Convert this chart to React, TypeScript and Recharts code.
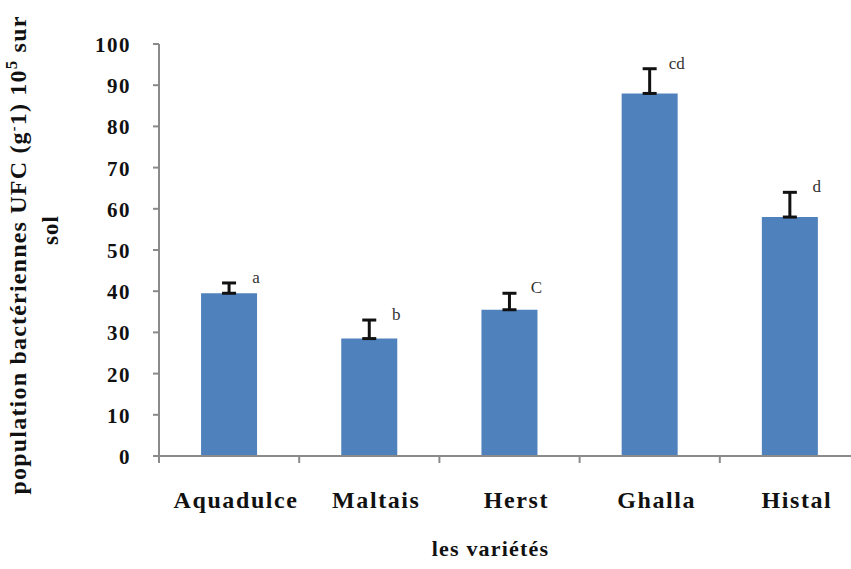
import React from "react";
import { BarChart, Bar, XAxis, YAxis, ErrorBar, LabelList } from "recharts";

const varieties = ["Aquadulce", "Maltais", "Herst", "Ghalla", "Histal"];
const population = [39.5, 28.5, 35.5, 88, 58];
const stdErr = [2.5, 4.5, 4, 6, 6];
const groups = ["a", "b", "C", "cd", "d"];
const yTicks = [0, 10, 20, 30, 40, 50, 60, 70, 80, 90, 100];

const data = varieties.map((name, i) => ({
  name,
  value: population[i],
  // only the upper half is drawn, the lower cap sits on the bar top
  err: [0, stdErr[i]],
  group: groups[i],
}));

const SERIF = "'Liberation Serif', 'Times New Roman', serif";
const AXIS = "#8a8a8a";
const BAR = "#4f81bd";

// category labels, with the tick marks drawn between the categories
const XTick = ({ x, y, width, payload, index }: any) => {
  const half = width / varieties.length / 2;
  return (
    <g>
      <line x1={x - half} x2={x - half} y1={y} y2={y + 7} stroke={AXIS} strokeWidth={2} />
      {index === varieties.length - 1 && (
        <line x1={x + half} x2={x + half} y1={y} y2={y + 7} stroke={AXIS} strokeWidth={2} />
      )}
      <text
        x={x + 7}
        y={y + 52}
        textAnchor="middle"
        fontFamily={SERIF}
        fontWeight="bold"
        fontSize={24}
        letterSpacing={1.6}
        fill="#111"
      >
        {payload.value}
      </text>
    </g>
  );
};

const YTick = ({ y, payload }: any) => (
  <text
    x={131}
    y={y + 1}
    textAnchor="end"
    dominantBaseline="central"
    fontFamily={SERIF}
    fontWeight="bold"
    fontSize={21}
    letterSpacing={1.5}
    fill="#111"
  >
    {payload.value}
  </text>
);

const YTitle = ({ viewBox }: any) => {
  const cy = viewBox.y + viewBox.height / 2;
  return (
    <g fontFamily={SERIF} fontWeight="bold" fill="#111">
      <text
        x={26}
        y={cy + 5}
        transform={`rotate(-90, 26, ${cy + 5})`}
        textAnchor="middle"
        fontSize={24}
        letterSpacing={1.2}
      >
        population bactériennes UFC (g
        <tspan dy={-8} fontSize={14}>-</tspan>
        <tspan dy={8}>1) 10</tspan>
        <tspan dy={-9} fontSize={17}>5</tspan>
        <tspan dy={9}>{"  sur"}</tspan>
      </text>
      <text
        x={58}
        y={cy - 20}
        transform={`rotate(-90, 58, ${cy - 20})`}
        textAnchor="middle"
        fontSize={23}
        letterSpacing={1}
      >
        sol
      </text>
    </g>
  );
};

const XTitle = ({ viewBox }: any) => (
  <text
    x={viewBox.x + viewBox.width / 2 - 19}
    y={556}
    textAnchor="middle"
    fontFamily={SERIF}
    fontWeight="bold"
    fontSize={22}
    letterSpacing={1.2}
    fill="#111"
  >
    les variétés
  </text>
);

// group letter placed to the right of each error bar
const GroupLetter = ({ x, y, width, height, value, index }: any) => {
  const perUnit = height / population[index];
  const top = y - stdErr[index] * perUnit;
  return (
    <text
      x={x + width / 2 + 27}
      y={top}
      textAnchor="middle"
      fontFamily={SERIF}
      fontSize={17}
      fill="#333"
    >
      {value}
    </text>
  );
};

export default function App() {
  return (
    <div
      style={{
        position: "absolute",
        left: 0,
        top: 0,
        width: 851,
        height: 569,
        overflow: "hidden",
        background: "#fff",
      }}
    >
      <BarChart
        width={866}
        height={569}
        data={data}
        margin={{ top: 44, right: 6, left: 0, bottom: 0 }}
        barCategoryGap="30%"
      >
        <XAxis
          dataKey="name"
          height={113}
          stroke={AXIS}
          strokeWidth={2}
          tickLine={false}
          tickSize={0}
          tickMargin={0}
          tick={<XTick />}
          interval={0}
          label={<XTitle />}
        />
        <YAxis
          width={159}
          domain={[0, 100]}
          ticks={yTicks}
          interval={0}
          stroke={AXIS}
          strokeWidth={2}
          tickSize={6}
          tick={<YTick />}
          label={<YTitle />}
        />
        <Bar dataKey="value" fill={BAR} isAnimationActive={false}>
          <ErrorBar
            dataKey="err"
            width={7}
            stroke="#111"
            strokeWidth={3}
            direction="y"
            isAnimationActive={false}
          />
          <LabelList dataKey="group" content={<GroupLetter />} />
        </Bar>
      </BarChart>
    </div>
  );
}
